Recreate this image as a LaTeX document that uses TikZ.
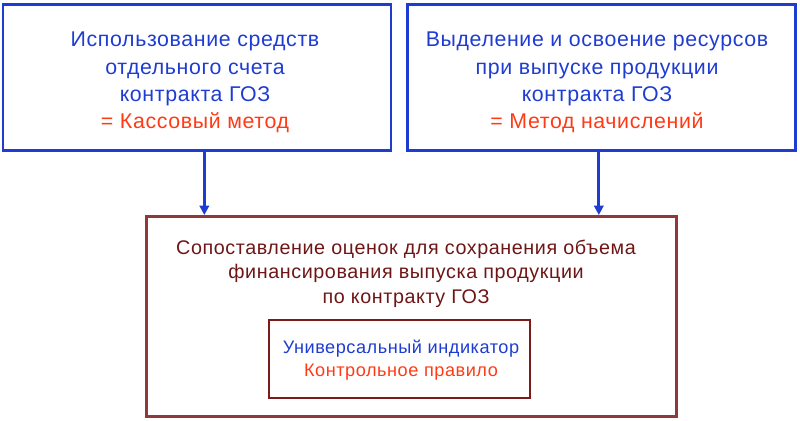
\documentclass[tikz,border=0pt]{standalone}
\usepackage{fontspec}
\setmainfont{Liberation Sans}[LetterSpace=3]
\usetikzlibrary{arrows.meta}
\definecolor{gozblue}{HTML}{1E3CD2}
\definecolor{gozred}{HTML}{FF3A14}
\definecolor{gozdark}{HTML}{6E1616}
\definecolor{gozframe}{HTML}{8E3A3A}
\definecolor{gozinner}{HTML}{7A1C1C}

\begin{document}
\begin{tikzpicture}[x=0.75pt,y=-0.75pt,
    topbox/.style={draw=gozblue,line width=2.2pt,inner sep=0pt,
      minimum width=291pt,minimum height=110pt},
    toptext/.style={anchor=north,align=center,inner sep=0pt,text=gozblue,
      font=\fontsize{16pt}{20.4pt}\selectfont},
    arr/.style={draw=gozblue,line width=2.2pt,
      -{Triangle[width=7pt,length=7pt]}}]
      \useasboundingbox (0,0) rectangle (800,421);

      \path
      (197,77.5) node[topbox](cash) {}
      (601.5,77.5) node[topbox](accrual) {}
      (411.5,316.5) node[draw=gozframe,line width=2.2pt,inner sep=0pt,
        minimum width=398pt,minimum height=150pt](match) {}
      (399.5,359) node[draw=gozinner,line width=1.6pt,inner sep=0pt,
        minimum width=195.5pt,minimum height=58.5pt](rule) {}
      ;
      \path
      (195,32) node[toptext](cashtxt) {Использование средств\\
        отдельного счета\\контракта ГОЗ\\
        \textcolor{gozred}{= Кассовый метод}}
      (597,32) node[toptext](accrualtxt) {Выделение и освоение ресурсов\\
        при выпуске продукции\\контракта ГОЗ\\
        \textcolor{gozred}{= Метод начислений}}
      (406,239.5) node[anchor=north,align=center,inner sep=0pt,text=gozdark,
        font=\fontsize{14.8pt}{18.4pt}\selectfont](matchtxt)
        {Сопоставление оценок для сохранения объема\\
        финансирования выпуска продукции\\по контракту ГОЗ}
      (401,340) node[anchor=north,align=center,inner sep=0pt,text=gozblue,
        font=\fontsize{13.6pt}{17.3pt}\selectfont](ruletxt)
        {Универсальный индикатор\\\textcolor{gozred}{Контрольное правило}}
      ;

      \draw[arr] ([xshift=5.5pt]cash.south) -- ([xshift=5.5pt]cash.south |- match.north);
      \draw[arr] ([xshift=-2pt]accrual.south) -- ([xshift=-2pt]accrual.south |- match.north);
    \end{tikzpicture}
\end{document}
